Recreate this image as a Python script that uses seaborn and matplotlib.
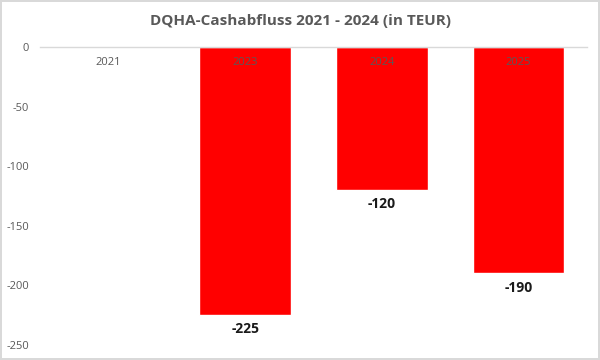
import pandas as pd
import matplotlib
matplotlib.use("Agg")
import matplotlib.pyplot as plt
import seaborn as sns

years = ["2021", "2023", "2024", "2025"]
cash_outflow = [0, -225, -120, -190]
y_ticks = [0, -50, -100, -150, -200, -250]

df = pd.DataFrame({"year": years, "value": cash_outflow})

sns.set_style("white")
plt.rcParams["font.family"] = ["Open Sans", "DejaVu Sans"]

fig = plt.figure(figsize=(6, 3.6), dpi=100)
fig.patch.set_edgecolor("#d9d9d9")
fig.patch.set_linewidth(1.5)
ax = fig.add_axes([0.067, 0.042, 0.911, 0.827])

sns.barplot(data=df, x="year", y="value", color="#ff0000", saturation=1,
            width=0.67, ax=ax, zorder=1)
ax.set_axisbelow(False)

ax.set_ylim(-250, 0)
ax.set_yticks(y_ticks)
ax.set_yticklabels([str(t) for t in y_ticks], color="#595959", fontsize=8)
ax.tick_params(axis="y", length=0, pad=8)

ax.xaxis.tick_top()
ax.tick_params(axis="x", length=0, pad=-15, labelsize=8, labelcolor="#595959")
ax.set_xlabel("")
ax.set_ylabel("")

for s in ["left", "right", "bottom"]:
    ax.spines[s].set_visible(False)
ax.spines["top"].set_color("#d9d9d9")
ax.spines["top"].set_linewidth(1)

for i, v in enumerate(cash_outflow):
    if v != 0:
        ax.text(i, v - 6, str(v), ha="center", va="top", fontsize=10,
                fontweight="bold", color="#1a1a1a")

fig.suptitle("DQHA-Cashabfluss 2021 - 2024 (in TEUR)", y=0.96, fontsize=11,
             fontweight="bold", color="#595959")

fig.savefig("out.png", dpi=100, edgecolor=fig.get_edgecolor())
